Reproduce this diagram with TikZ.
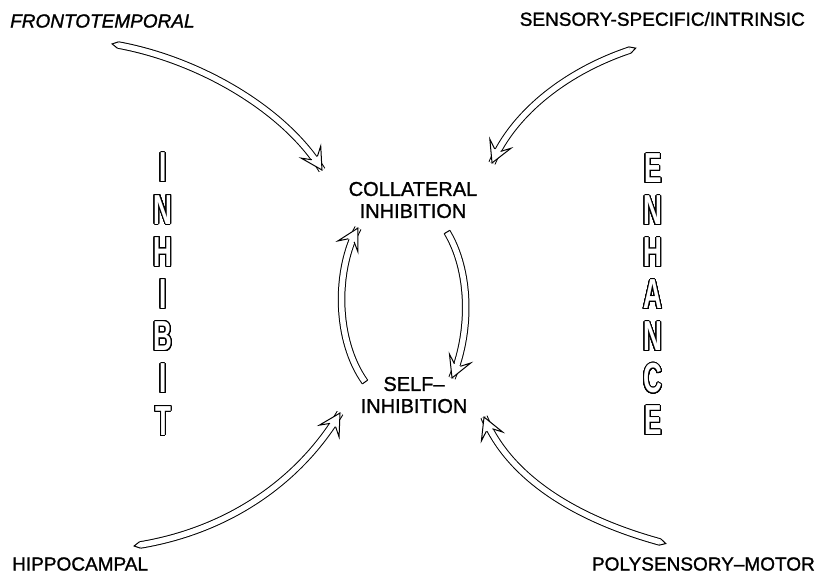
\documentclass[tikz,border=0pt]{standalone}
\usepackage{fontspec}
\setmainfont{Liberation Sans}
\newfontfamily\labelfont[FakeBold=1.2,Ligatures=TeX]{Liberation Sans}
\newfontfamily\tallfont[FakeStretch=0.62]{Liberation Sans}
\usepackage{contour}
\contourlength{1pt}
\contournumber{32}
\usepackage{tikz}
\usetikzlibrary{calc,positioning,decorations.markings}
\tikzset{
  label/.style  = {inner sep=0pt, font=\labelfont\fontsize{19}{22}\selectfont},
  centre/.style = {inner sep=0pt, align=center, font=\labelfont\fontsize{20}{22}\selectfont},
  bigletter/.style = {inner sep=0pt, font=\tallfont\bfseries\fontsize{42}{42}\selectfont},
  hollow/.style = {double=white, double distance=5.5pt, line width=1pt,
    postaction={decorate, decoration={markings,
      mark=at position -0.05pt with {
        \fill[white] (-14pt,3.25pt) -- (-21pt,11.5pt) -- (0pt,0pt) -- (-21pt,-11.5pt) -- (-14pt,-3.25pt) -- cycle;
        \draw[line width=1pt, shorten >=0pt, line join=miter]
          (-14pt,3.25pt) -- (-21pt,11.5pt) -- (0pt,0pt) -- (-21pt,-11.5pt) -- (-14pt,-3.25pt);}}}},
  pointtail/.style = {postaction={decorate, decoration={markings,
      mark=at position 0 with {
        \draw[line width=1pt, fill=white, shorten >=0pt] (0pt,3.25pt) -- (-6pt,0pt) -- (0pt,-3.25pt);}}}},
  flattail/.style = {postaction={decorate, decoration={markings,
      mark=at position 0 with {
        \draw[line width=1pt, shorten >=0pt] (0pt,3.25pt) -- (0pt,-3.25pt);}}}},
}
\newcommand{\outl}[1]{{\color{white}\contour{black}{#1}}}

\begin{document}
\begin{tikzpicture}[x=1pt,y=-1pt]
  \useasboundingbox (0,0) rectangle (820,574);
  % sources
  \node[label,anchor=west] (fronto) at (10,21) {\itshape FRONTOTEMPORAL};
  \node[label,anchor=east] (sensory) at (805,19) {SENSORY-SPECIFIC/INTRINSIC};
  \node[label,anchor=west] (hippo) at (12,564) {HIPPOCAMPAL};
  \node[label,anchor=east] (poly) at (815,564) {POLYSENSORY–MOTOR};
  % centre
  \node[centre] (coll) at (413,200) {COLLATERAL\\INHIBITION};
  \node[centre] (self) at (414,395) {SELF–\\INHIBITION};
  % side words
  \foreach \l [count=\i from 0] in {I,N,H,I,B,I,T}
    \node[bigletter] (inh\i) at (163,168+42.2*\i) {\outl{\l}};
  \foreach \l [count=\i from 0] in {E,N,H,A,N,C,E}
    \node[bigletter] (enh\i) at (653,169+42*\i) {\outl{\l}};
  % incoming arrows
  \draw[hollow,pointtail] ($(fronto.west)+(108,24)$) .. controls +(82,15) and +(-37,-60) .. ($(coll)+(-91,-30)$);
  \draw[hollow,pointtail] ($(sensory.east)+(-175,31)$) .. controls +(-60,20) and +(23,-53) .. ($(coll)+(79,-37)$);
  \draw[hollow,pointtail] ($(hippo.west)+(128,-19)$) .. controls +(90,-15) and +(-40,67) .. ($(self)+(-74,18)$);
  \draw[hollow,pointtail] ($(poly.east)+(-155,-22)$) .. controls +(-80,-22) and +(26,63) .. ($(self)+(70,22)$);
  % loop
  \draw[hollow,flattail] ($(self)+(-49,-13)$) .. controls +(-30,-42) and +(-23,42) .. ($(coll)+(-55,28)$);
  \draw[hollow,flattail] ($(coll)+(34,32)$) .. controls +(23,38) and +(20,-48) .. ($(self)+(38,-17)$);
\end{tikzpicture}
\end{document}
